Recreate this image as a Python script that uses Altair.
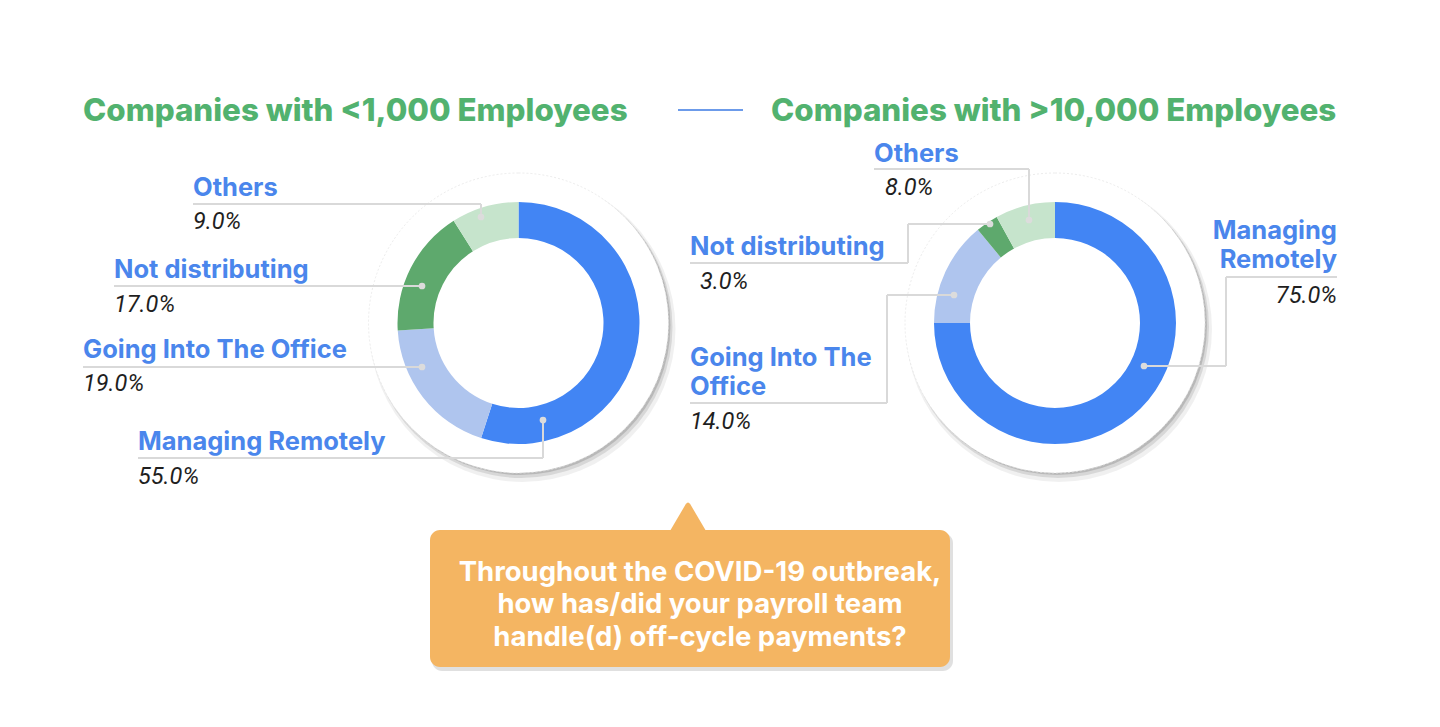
import math
import altair as alt
import pandas as pd

# ---------------- data ----------------
categories = ["Managing Remotely", "Going Into The Office", "Not distributing", "Others"]
small_values = [55.0, 19.0, 17.0, 9.0]     # Companies with <1,000 employees
large_values = [75.0, 14.0, 3.0, 8.0]      # Companies with >10,000 employees
titles = ["Companies with <1,000 Employees", "Companies with >10,000 Employees"]
question = ["Throughout the COVID-19 outbreak,", "how has/did your payroll team",
            "handle(d) off-cycle payments?"]

# ---------------- styles / layout ----------------
slice_colors = ["#4285F4", "#AFC5EE", "#5EA96D", "#C6E4CC"]
title_green = "#52B26F"
label_blue = "#4A86EC"
lead_gray = "#D9D9D9"
callout_fill = "#F4B562"
W, H, M = 1420, 700, 8

xs = alt.Scale(domain=[M, M + W], range=[0, W], zero=False, nice=False)
ys = alt.Scale(domain=[M, M + H], range=[0, H], zero=False, nice=False)

centers = [(518.5, 323.0), (1055.0, 323.0)]
R_OUT, R_IN, R_DISC = 121, 85, 150

# label layout: (x, baseline y of first line, align, text lines) for name; pct (x, y, align)
left_layout = {
    "Others": ((193, 196, "left", ["Others"]), (193, 229, "left")),
    "Not distributing": ((114, 278, "left", ["Not distributing"]), (114, 312, "left")),
    "Going Into The Office": ((83, 358, "left", ["Going Into The Office"]), (83, 391, "left")),
    "Managing Remotely": ((138, 450, "left", ["Managing Remotely"]), (138, 484, "left")),
}
right_layout = {
    "Others": ((874, 162, "left", ["Others"]), (885, 195, "left")),
    "Not distributing": ((690, 255, "left", ["Not distributing"]), (700, 289, "left")),
    "Going Into The Office": ((690, 366, "left", ["Going Into The", "Office"]), (690, 429, "left")),
    "Managing Remotely": ((1337, 239, "right", ["Managing", "Remotely"]), (1337, 303, "right")),
}
LINE_H = 29

# leader polylines (reference pixel coords), last point gets a dot
leaders = [
    [(193, 204), (481, 204), (481, 217)],
    [(114, 286), (422, 286)],
    [(83, 367), (422, 367)],
    [(138, 458), (543, 458), (543, 420)],
    [(874, 169), (1029, 169), (1029, 220)],
    [(690, 263), (908, 263), (908, 224), (990, 224)],
    [(690, 403), (887, 403), (887, 295), (954, 295)],
    [(1337, 277), (1226, 277), (1226, 366), (1144, 366)],
]

# ---------------- build tables ----------------
name_rows, pct_rows = [], []
for values, layout in ((small_values, left_layout), (large_values, right_layout)):
    for cat, v in zip(categories, values):
        (nx, ny, nal, lines), (px, py, pal) = layout[cat]
        for i, ln in enumerate(lines):
            name_rows.append({"x": nx, "y": ny + i * LINE_H, "align": nal, "text": ln})
        pct_rows.append({"x": px, "y": py, "align": pal, "text": f"{v:.1f}%"})
names_df = pd.DataFrame(name_rows)
pcts_df = pd.DataFrame(pct_rows)

seg_rows, dot_rows = [], []
for pl in leaders:
    for (a, b) in zip(pl[:-1], pl[1:]):
        seg_rows.append({"x": a[0], "y": a[1], "x2": b[0], "y2": b[1]})
    dot_rows.append({"x": pl[-1][0], "y": pl[-1][1]})
seg_df = pd.DataFrame(seg_rows)
dot_df = pd.DataFrame(dot_rows)

color_scale = alt.Scale(domain=categories, range=slice_colors)

layers = []

# discs with shadow behind donuts
for (cx, cy) in centers:
    for dx, dy, r, op in [(4, 6, R_DISC + 3, 0.06), (3, 4, R_DISC + 1, 0.10), (2, 2, R_DISC, 0.14)]:
        layers.append(
            alt.Chart(pd.DataFrame({"k": [0]})).mark_arc(
                theta=0, theta2=2 * math.pi, outerRadius=r, fill="#000000", opacity=op
            ).encode(x=alt.value(cx - M + dx), y=alt.value(cy - M + dy))
        )
    layers.append(
        alt.Chart(pd.DataFrame({"k": [0]})).mark_arc(
            theta=0, theta2=2 * math.pi, outerRadius=R_DISC, fill="#FFFFFF",
            stroke="#E6E6E6", strokeWidth=0.8, strokeDash=[2, 2]
        ).encode(x=alt.value(cx - M), y=alt.value(cy - M))
    )

# donuts
for (cx, cy), values in zip(centers, (small_values, large_values)):
    df = pd.DataFrame({"category": categories, "value": values, "idx": list(range(len(categories)))})
    layers.append(
        alt.Chart(df).mark_arc(outerRadius=R_OUT, innerRadius=R_IN).encode(
            theta=alt.Theta("value:Q", stack=True),
            color=alt.Color("category:N", scale=color_scale, legend=None),
            order=alt.Order("idx:Q"),
            x=alt.value(cx - M),
            y=alt.value(cy - M),
        )
    )

# leader lines and dots
layers.append(
    alt.Chart(seg_df).mark_rule(color=lead_gray, strokeWidth=2).encode(
        x=alt.X("x:Q", scale=xs, axis=None), y=alt.Y("y:Q", scale=ys, axis=None),
        x2="x2:Q", y2="y2:Q",
    )
)
layers.append(
    alt.Chart(dot_df).mark_circle(size=45, color="#DCDCDC", opacity=1).encode(
        x=alt.X("x:Q", scale=xs, axis=None), y=alt.Y("y:Q", scale=ys, axis=None)
    )
)

# category labels and percentages
for al in ("left", "right"):
    sub = names_df[names_df["align"] == al]
    layers.append(
        alt.Chart(sub).mark_text(
            align=al, baseline="alphabetic", font="Inter", fontWeight=700, fontSize=25.5,
            color=label_blue
        ).encode(x=alt.X("x:Q", scale=xs, axis=None), y=alt.Y("y:Q", scale=ys, axis=None), text="text:N")
    )
    sub = pcts_df[pcts_df["align"] == al]
    layers.append(
        alt.Chart(sub).mark_text(
            align=al, baseline="alphabetic", font="Roboto", fontStyle="italic", fontSize=23.5,
            color="#1F1F1F"
        ).encode(x=alt.X("x:Q", scale=xs, axis=None), y=alt.Y("y:Q", scale=ys, axis=None), text="text:N")
    )

# titles
title_df = pd.DataFrame({"x": [83, 771], "y": [121, 121], "text": titles})
layers.append(
    alt.Chart(title_df).mark_text(
        align="left", baseline="alphabetic", font="Inter", fontWeight=800, fontSize=31.3,
        color=title_green
    ).encode(x=alt.X("x:Q", scale=xs, axis=None), y=alt.Y("y:Q", scale=ys, axis=None), text="text:N")
)
layers.append(
    alt.Chart(pd.DataFrame({"x": [678], "x2": [743], "y": [110]})).mark_rule(
        color="#6C9BEA", strokeWidth=2
    ).encode(x=alt.X("x:Q", scale=xs, axis=None), x2="x2:Q", y=alt.Y("y:Q", scale=ys, axis=None))
)

# callout box
box = pd.DataFrame({"x": [430], "x2": [950], "y": [530], "y2": [667]})
shadow = pd.DataFrame({"x": [432], "x2": [953], "y": [533], "y2": [671]})
layers.append(
    alt.Chart(shadow).mark_rect(cornerRadius=10, color="#000000", opacity=0.12).encode(
        x=alt.X("x:Q", scale=xs, axis=None), x2="x2:Q", y=alt.Y("y:Q", scale=ys, axis=None), y2="y2:Q"
    )
)
layers.append(
    alt.Chart(pd.DataFrame({"x": [688], "y": [517]})).mark_point(
        shape="M-1,0.78L-0.12,-0.72Q0,-0.9,0.12,-0.72L1,0.78Z", size=1300, filled=True,
        color=callout_fill, opacity=1
    ).encode(x=alt.X("x:Q", scale=xs, axis=None), y=alt.Y("y:Q", scale=ys, axis=None))
)
layers.append(
    alt.Chart(box).mark_rect(cornerRadius=10, color=callout_fill).encode(
        x=alt.X("x:Q", scale=xs, axis=None), x2="x2:Q", y=alt.Y("y:Q", scale=ys, axis=None), y2="y2:Q"
    )
)
q_df = pd.DataFrame({"x": [700] * 3, "y": [581, 613, 646], "text": question})
layers.append(
    alt.Chart(q_df).mark_text(
        align="center", baseline="alphabetic", font="Inter", fontWeight=700, fontSize=27.5,
        color="#FFFFFF"
    ).encode(x=alt.X("x:Q", scale=xs, axis=None), y=alt.Y("y:Q", scale=ys, axis=None), text="text:N")
)

chart = alt.layer(*layers).properties(
    width=W, height=H, autosize=alt.AutoSizeParams(type="none"), padding=0
).configure(
    background="#FFFFFF",
    view=alt.ViewConfig(strokeWidth=0, stroke="transparent"),
)

chart.save("out.html", embed_options={"renderer": "svg", "actions": False})
